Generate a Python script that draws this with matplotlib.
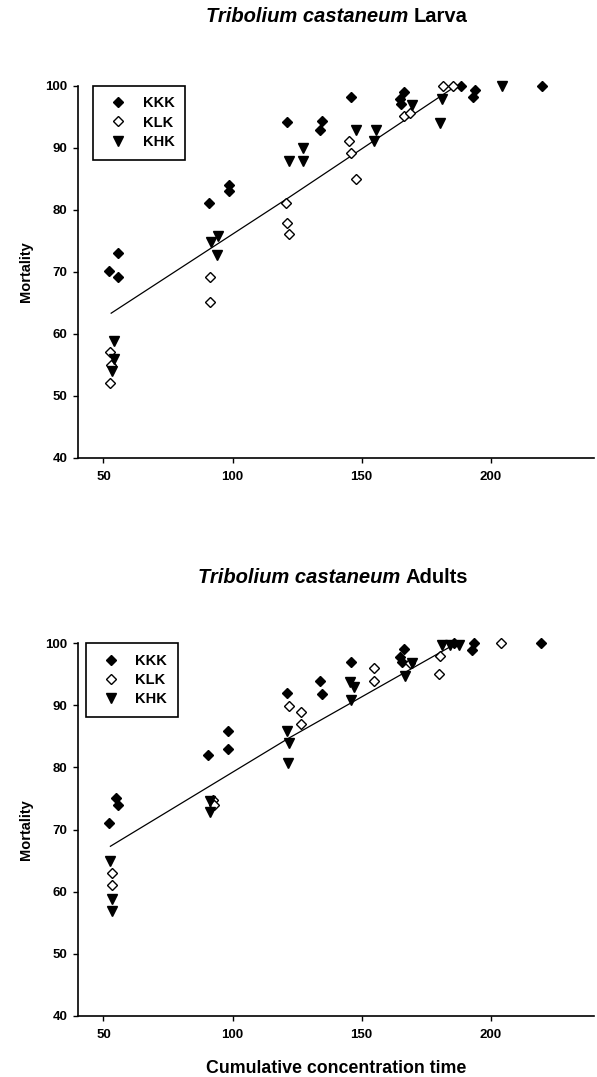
import matplotlib
matplotlib.use("Agg")
import matplotlib.pyplot as plt

plt.rcParams["font.family"] = ["Liberation Sans", "DejaVu Sans"]
plt.rcParams["font.weight"] = "bold"

# Larva panel
larva_kkk_x = [52.3, 55.8, 55.8, 90.7, 98.6, 98.6, 121.1, 134.7, 133.7, 146.0, 166.6, 165.0, 165.4, 188.3, 193.8, 193.3, 219.9]
larva_kkk_y = [70.1, 73.0, 69.1, 81.0, 84.0, 83.0, 94.1, 94.2, 92.9, 98.2, 99.0, 97.9, 97.1, 100.0, 99.2, 98.2, 100.0]
larva_klk_x = [91.1, 91.1, 120.8, 121.1, 121.9, 52.6, 52.9, 52.6, 145.3, 146.0, 147.7, 166.3, 168.9, 181.4, 185.3]
larva_klk_y = [69.1, 65.1, 81.0, 77.9, 76.0, 57.0, 54.9, 52.1, 91.1, 89.2, 84.9, 95.1, 95.6, 100.0, 100.0]
larva_khk_x = [91.6, 94.3, 94.0, 122.0, 127.1, 127.1, 147.9, 155.4, 154.7, 169.5, 181.2, 180.5, 204.4, 53.9, 53.9, 53.3]
larva_khk_y = [74.8, 75.8, 72.7, 87.9, 87.9, 89.9, 92.9, 92.9, 91.0, 96.9, 97.8, 94.0, 99.9, 58.8, 55.9, 54.0]
larva_fit_x = [53.0, 122.0, 185.0]
larva_fit_y = [63.3, 82.0, 99.5]

# Adults panel
adult_kkk_x = [52.3, 54.9, 55.8, 90.5, 98.4, 98.4, 121.1, 134.0, 134.7, 145.9, 166.6, 165.0, 165.7, 185.7, 193.7, 192.8, 219.5]
adult_kkk_y = [71.1, 75.0, 74.0, 82.0, 85.9, 83.0, 92.0, 93.9, 91.9, 97.0, 99.0, 97.8, 97.0, 100.0, 100.0, 98.9, 100.0]
adult_klk_x = [121.7, 126.5, 126.5, 92.6, 92.9, 53.3, 53.3, 154.9, 154.9, 180.5, 179.8, 204.0, 168.9]
adult_klk_y = [89.9, 89.0, 87.0, 74.8, 74.0, 63.0, 61.1, 96.0, 94.0, 98.0, 95.1, 100.0, 96.8]
adult_khk_x = [52.6, 53.3, 53.3, 91.4, 91.1, 121.1, 121.7, 121.5, 145.6, 147.2, 145.9, 166.9, 169.5, 181.2, 184.4, 187.6]
adult_khk_y = [65.0, 58.8, 56.9, 74.6, 72.8, 85.8, 83.9, 80.7, 93.8, 92.9, 90.9, 94.7, 96.9, 99.7, 99.7, 99.7]
adult_fit_x = [52.7, 121.7, 185.0]
adult_fit_y = [67.3, 84.7, 99.6]

labels = ["KKK", "KLK", "KHK"]
x_ticks = [50, 100, 150, 200]
y_ticks = [40, 50, 60, 70, 80, 90, 100]

fig = plt.figure(figsize=(5.97, 10.77), dpi=100)
ax1 = fig.add_axes([0.130, 0.575, 0.865, 0.3456])
ax2 = fig.add_axes([0.130, 0.0569, 0.865, 0.3458])


def draw_panel(ax, kx, ky, lx, ly, hx, hy, fx, fy, leg_x):
    ax.plot(fx, fy, color="black", lw=0.9, zorder=1)
    ax.plot(kx, ky, "D", color="black", ms=5, ls="none", clip_on=False, label=labels[0], zorder=3)
    ax.plot(lx, ly, "D", mfc="white", mec="black", mew=1.0, ms=5, ls="none", clip_on=False, label=labels[1], zorder=3)
    ax.plot(hx, hy, "v", color="black", ms=7, ls="none", clip_on=False, label=labels[2], zorder=3)
    ax.set_xlim(40, 240)
    ax.set_ylim(40, 100)
    ax.set_xticks(x_ticks)
    ax.set_yticks(y_ticks)
    ax.spines["top"].set_visible(False)
    ax.spines["right"].set_visible(False)
    for s in ("left", "bottom"):
        ax.spines[s].set_linewidth(1.2)
    ax.tick_params(direction="out", length=3.5, width=1.0, labelsize=9.5)
    ax.tick_params(axis="x", pad=6)
    ax.tick_params(axis="y", pad=4)
    for t in ax.get_xticklabels() + ax.get_yticklabels():
        t.set_fontweight("bold")
    ax.set_ylabel("Mortality", fontsize=10.5, fontweight="bold", labelpad=9)
    leg = ax.legend(loc="upper left", bbox_to_anchor=(leg_x, 1.0), borderaxespad=0,
                    fancybox=False, edgecolor="black", framealpha=1,
                    prop={"weight": "bold", "size": 10.5}, handlelength=1.9,
                    handletextpad=0.75, labelspacing=0.35, borderpad=0.75)
    leg.get_frame().set_linewidth(1.2)


draw_panel(ax1, larva_kkk_x, larva_kkk_y, larva_klk_x, larva_klk_y,
           larva_khk_x, larva_khk_y, larva_fit_x, larva_fit_y, 0.03)
draw_panel(ax2, adult_kkk_x, adult_kkk_y, adult_klk_x, adult_klk_y,
           adult_khk_x, adult_khk_y, adult_fit_x, adult_fit_y, 0.016)

ax2.set_xlabel("Cumulative concentration time", fontsize=12.8, fontweight="bold", labelpad=14)


def title(x, y, species, stage):
    fig.text(x, y, species + " ", ha="right", va="center",
             fontsize=14.5, fontweight="bold", style="italic")
    fig.text(x, y, stage, ha="left", va="center",
             fontsize=14.5, fontweight="bold")


title(0.693, 0.985, "Tribolium castaneum", "Larva")
title(0.680, 0.4635, "Tribolium castaneum", "Adults")

fig.savefig("out.png", dpi=100)
